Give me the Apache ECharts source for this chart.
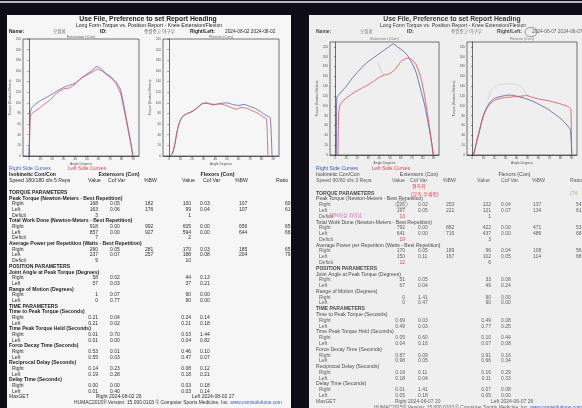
<!DOCTYPE html>
<html><head><meta charset="utf-8">
<script src="https://cdn.jsdelivr.net/npm/echarts@6/dist/echarts.min.js"></script>
<style>html,body{margin:0;padding:0;background:#0e0c16;overflow:hidden}#c{width:582px;height:408px}</style>
</head><body><div id="c"></div>
<script>
// ---------- curve data (angle in degrees, torque in N-m) ----------
// Page 1 (2024-08-02, 180 d/s)
const p1ExtRightAngle = [0, 0.5, 1, 1.5, 3, 6, 10, 15, 20, 25, 30, 35, 40, 45, 50, 55, 58, 62, 66, 70, 75, 79, 82, 85, 88, 90];
const p1ExtRightTorque = [0, 30, 75, 85, 92, 98, 104, 110, 116, 123, 129, 133, 137, 146, 154, 161, 168, 165, 156, 150, 140, 125, 95, 60, 25, 0];
const p1ExtLeftAngle = [0.3, 0.8, 1.2, 2, 4, 8, 12, 18, 24, 30, 35, 40, 45, 50, 55, 59, 63, 67, 71, 75, 79, 82, 85, 88, 89.5];
const p1ExtLeftTorque = [0, 40, 70, 78, 82, 88, 95, 105, 118, 126, 128, 135, 146, 152, 158, 163, 160, 153, 146, 136, 118, 88, 55, 22, 0];
const p1FlxRightAngle = [1, 3, 5, 7, 9, 12, 15, 20, 25, 28, 32, 36, 40, 45, 50, 55, 60, 65, 70, 75, 80, 84, 86, 87.5, 88.5, 89];
const p1FlxRightTorque = [0, 5, 20, 45, 62, 75, 79, 84, 92, 98, 100, 98, 97, 99, 100, 97, 95, 97, 93, 89, 82, 76, 74, 72, 30, 0];
const p1FlxLeftAngle = [1.5, 3.5, 5.5, 7.5, 10, 13, 16, 20, 25, 29, 33, 38, 43, 48, 53, 58, 62, 67, 72, 77, 81, 84, 85, 85.5];
const p1FlxLeftTorque = [0, 6, 25, 50, 68, 76, 80, 83, 91, 98, 99, 96, 98, 96, 92, 88, 91, 90, 85, 80, 74, 70, 35, 0];
// Page 2 (2024-06-07, 60 d/s)
const p2ExtRightAngle = [0.8, 1, 1.3, 3, 6, 10, 15, 20, 25, 30, 35, 40, 45, 50, 53, 57, 62, 66, 70, 74, 78, 82, 85, 88, 90];
const p2ExtRightTorque = [0, 60, 118, 122, 130, 140, 155, 168, 180, 190, 198, 206, 214, 222, 226, 220, 212, 203, 188, 168, 135, 100, 65, 30, 0];
const p2ExtLeftAngle = [2.3, 2.6, 3, 4, 6, 10, 15, 20, 25, 30, 35, 40, 45, 50, 55, 60, 64, 67, 70, 74, 78, 81, 84, 87, 89.5];
const p2ExtLeftTorque = [0, 50, 85, 100, 108, 116, 124, 131, 137, 143, 150, 158, 163, 166, 175, 190, 196, 197, 194, 184, 160, 130, 90, 45, 0];
const p2FlxRightAngle = [0.8, 2, 4, 6, 8, 10, 13, 16, 20, 25, 30, 33, 38, 43, 48, 53, 58, 63, 68, 73, 78, 83, 87, 89, 90, 90.3];
const p2FlxRightTorque = [0, 10, 28, 45, 65, 82, 97, 108, 115, 119, 121, 122, 121, 118, 115, 111, 106, 100, 94, 86, 78, 68, 58, 50, 20, 0];
const p2FlxLeftAngle = [1, 2.2, 4, 6, 8, 10, 13, 16, 20, 25, 30, 35, 40, 45, 49, 55, 60, 65, 70, 75, 80, 85, 88, 89.5, 90];
const p2FlxLeftTorque = [0, 12, 30, 48, 66, 80, 94, 104, 111, 115, 117, 118, 119, 120, 121, 117, 114, 112, 110, 107, 104, 100, 97, 93, 0];
// pencil marks on page 2 charts
const p2ExtMarkAngle = [39, 41.5, 44.5];
const p2ExtMarkTorque = [188, 174, 160];
const p2FlxMarkAngle = [14, 16, 20, 26, 34, 42, 47, 50];
const p2FlxMarkTorque = [112, 128, 138, 144, 145, 142, 132, 120];

// ---------- axis ticks ----------
const xTickValues = [0, 10, 20, 30, 40, 50, 60, 70, 80, 90];
const yTickValues = [0, 20, 40, 60, 80, 100, 120, 140, 160, 180, 200, 220];

// ---------- table data ----------
const rowLabels = ['TORQUE PARAMETERS','Peak Torque (Newton-Meters - Best Repetition)','Right','Left','Deficit',
 'Total Work Done (Newton-Meters - Best Repetition)','Right','Left','Deficit',
 'Average Power per Repetition (Watts - Best Repetition)','Right','Left','Deficit',
 'POSITION PARAMETERS','Joint Angle at Peak Torque (Degrees)','Right','Left',
 'Range of Motion (Degrees)','Right','Left',
 'TIME PARAMETERS','Time to Peak Torque (Seconds)','Right','Left',
 'Time Peak Torque Held (Seconds)','Right','Left',
 'Force Decay Time (Seconds)','Right','Left',
 'Reciprocal Delay (Seconds)','Right','Left',
 'Delay Time (Seconds)','Right','Left','MaxGET'];
const colHeaders = ['Value','Cof Var','%BW','Value','Cof Var','%BW','Ratio'];

const p1ExtVal = ['','','168','163','3','','918','857','7','','260','237','9','','','58','57','','1','0','','','0.21','0.21','','0.01','0.01','','0.53','0.55','','0.14','0.19','','0.00','0.01',''];
const p1ExtCof = ['','','0.05','0.06','','','0.00','0.00','','','0.05','0.07','','','','0.02','0.03','','0.07','0.77','','','0.04','0.02','','0.70','0.00','','0.01','0.03','','0.23','0.28','','0.00','0.40',''];
const p1ExtBW  = ['','','182','176','','','992','927','','','281','257','','','','','','','','','','','','','','','','','','','','','','','','',''];
const p1FlxVal = ['','','100','99','1','','605','594','2','','170','188','10','','','44','37','','90','90','','','0.24','0.21','','0.03','0.04','','0.46','0.47','','0.08','0.18','','0.03','0.03',''];
const p1FlxCof = ['','','0.03','0.04','','','0.00','0.00','','','0.03','0.08','','','','0.13','0.21','','0.00','0.00','','','0.14','0.18','','1.44','0.82','','0.10','0.07','','0.12','0.21','','0.18','0.14',''];
const p1FlxBW  = ['','','107','107','','','656','644','','','185','204','','','','','','','','','','','','','','','','','','','','','','','','',''];
const p1Ratio  = ['','','60','61','','','65','66','','','65','79','','','','','','','','','','','','','','','','','','','','','','','','',''];

const p2ExtVal = ['','','226','197','13','','792','641','19','','170','150','12','','','51','67','','0','0','','','0.69','0.49','','0.05','0.04','','0.87','0.98','','0.19','0.18','','0.01','0.05',''];
const p2ExtCof = ['','','0.02','0.05','','','0.00','0.00','','','0.05','0.11','','','','0.05','0.04','','1.41','0.47','','','0.03','0.03','','0.60','0.16','','0.09','0.05','','0.11','0.04','','1.41','0.18',''];
const p2ExtBW  = ['','','253','221','','','882','715','','','189','167','','','','','','','','','','','','','','','','','','','','','','','','',''];
const p2FlxVal = ['','','122','121','1','','422','437','3','','96','102','6','','','33','49','','90','90','','','0.49','0.77','','0.10','0.07','','0.91','0.66','','0.16','0.11','','0.07','0.05',''];
const p2FlxCof = ['','','0.04','0.07','','','0.00','0.00','','','0.04','0.05','','','','0.08','0.24','','0.00','0.00','','','0.08','0.25','','0.44','0.08','','0.16','0.34','','0.29','0.33','','0.08','0.00',''];
const p2FlxBW  = ['','','137','134','','','471','486','','','108','114','','','','','','','','','','','','','','','','','','','','','','','','',''];
const p2Ratio  = ['','','54','61','','','53','68','','','56','68','','','','','','','','','','','','','','','','','','','','','','','','',''];

const reportTitle = 'Use File, Preference to set Report Heading';
const reportSubtitle = 'Long Form Torque vs. Position Report - Knee Extension/Flexion';
const patientName = '오정환';
const patientId = '중원중고 야구부';
const p1Dates = '2024-08-02 2024-08-02';
const p2Dates = '2024-06-07 2024-06-07';
const p1Speed = 'Speed 180/180 d/s 5 Reps';
const p2Speed = 'Speed 60/60 d/s 3 Reps';
const p1MaxGet = ['Right 2024-08-02 26', 'Left 2024-08-02 27'];
const p2MaxGet = ['Right 2024-06-07 20', 'Left 2024-06-07 26'];
const footerText = 'HUMAC2015® Version: 15.000.0103 © Computer Sports Medicine, Inc. ';
const footerLink = 'www.csmisolutions.com';
const notes = ['편측차', '(우측 우세함)', '10%이상 차이남', '(74'];

// ---------- build ----------
const F = '"Liberation Sans","Noto Sans CJK KR",Arial,sans-serif';
const els = [];
function T(x, y, text, size, color, opt) {
  opt = opt || {};
  els.push({type:'text', x:x, y:y, z:5, silent:true, style:{
    text:text, font:(opt.bold?'bold ':'') + size + 'px ' + F, fill:color,
    textAlign:opt.align||'left', align:opt.align||'left',
    textVerticalAlign:'middle', verticalAlign:'middle'}});
}
// background strip & pages
els.push({type:'rect', z:-10, silent:true, shape:{x:0,y:1,width:582,height:2}, style:{fill:'#b9b9bd'}});
els.push({type:'rect', z:-10, silent:true, shape:{x:7,y:15,width:284,height:393}, style:{fill:'#f6f6f6'}});
els.push({type:'rect', z:-10, silent:true, shape:{x:309,y:15,width:273,height:393}, style:{fill:'#efefef'}});

function page(cfg) {
  const c = cfg.c;
  T(cfg.cx, 19.5, reportTitle, 6.8, c.title, {bold:true, align:'center'});
  T(cfg.cx+1, 25.3, reportSubtitle, 5.2, c.title, {align:'center'});
  T(cfg.x0, 32, 'Name:', 5, c.head, {bold:true});
  T(cfg.x0+44, 32, patientName, 4.6, c.light);
  T(cfg.x0+91, 32, 'ID:', 5, c.head, {bold:true});
  T(cfg.x0+135, 32, patientId, 4.6, c.light);
  T(cfg.x0+181, 32, 'Right/Left:', 5, c.head, {bold:true});
  T(cfg.x0+216, 32, cfg.dates, 4.8, c.text);
  T(cfg.g1c, cfg.ct, 'Extension (Con)', 4, c.light, {align:'center'});
  T(cfg.g2c, cfg.ct, 'Flexion (Con)', 4, c.light, {align:'center'});
  T(cfg.x0, 168.3, 'Right Side Curves', 5.2, c.blue);
  T(cfg.x0+cfg.legL, 168.3, 'Left Side Curves', 5.2, c.red);
  T(cfg.x0, 174.8, 'Isokinetic Con/Con', 5.2, c.head, {bold:cfg.bold});
  T(cfg.extHc, 174.8, 'Extensors (Con)', 5.3, c.head, {bold:cfg.bold, align:'center'});
  T(cfg.flxHc, 174.8, 'Flexors (Con)', 5.3, c.head, {bold:cfg.bold, align:'center'});
  T(cfg.x0, 180.4, cfg.speed, 5.2, c.text);
  const hx = cfg.hx;
  T(hx[0], 180.4, colHeaders[0], 5.2, c.text, {align:'right'});
  for (let i = 1; i < 7; i++) T(hx[i], 180.4, colHeaders[i], 5.2, c.text, i===3?{align:'right'}:{});
  const cols = cfg.cols, v = cfg.vals;
  rowLabels.forEach((lab, i) => {
    const y = cfg.y0 + i * cfg.step;
    const sub = (lab === 'Right' || lab === 'Left' || lab === 'Deficit');
    if (sub) T(cfg.x0+3, y, lab, 5, c.text);
    else if (lab === 'MaxGET') T(cfg.x0, y, lab, 5, c.text);
    else T(cfg.x0, y, lab, 5.1, c.head, {bold:cfg.bold || /PARAMETERS/.test(lab)});
    const redDef = cfg.redDeficit && lab === 'Deficit';
    if (v[0][i]) T(cols[0], y, v[0][i], 5, redDef ? '#e2404c' : c.text, {align:'right'});
    if (v[1][i]) T(cols[1], y, v[1][i], 5, c.text);
    if (v[2][i]) T(cols[2], y, v[2][i], 5, c.text);
    if (v[3][i]) T(cols[3], y, v[3][i], 5, c.text, {align:'right'});
    if (v[4][i]) T(cols[4], y, v[4][i], 5, c.text);
    if (v[5][i]) T(cols[5], y, v[5][i], 5, c.text);
    if (v[6][i]) T(cols[6], y, v[6][i], 5, c.text);
  });
  const ym = cfg.y0 + (rowLabels.length - 1) * cfg.step;
  T(cfg.mg[0], ym, cfg.maxget[0], 5, c.text);
  T(cfg.mg[1], ym, cfg.maxget[1], 5, c.text);
  const yf = cfg.y0 + rowLabels.length * cfg.step;
  els.push({type:'text', x:cfg.fx, y:yf, z:5, silent:true, style:{
    text:'{a|' + footerText + '}{b|' + footerLink + '}', font:'4.9px ' + F,
    textAlign:cfg.falign, align:cfg.falign, textVerticalAlign:'middle', verticalAlign:'middle',
    rich:{a:{fill:c.text, font:'4.9px ' + F}, b:{fill:'#3a58d0', font:'4.9px ' + F}}}});
}

page({x0:9, cx:148, g1c:81, g2c:221, ct:36.8, legL:59, bold:true, extHc:119, flxHc:217.5,
  speed:p1Speed, dates:p1Dates, hx:[101,108,144,195,203,235,276], cols:[98,110,145,191,200,239,285],
  vals:[p1ExtVal,p1ExtCof,p1ExtBW,p1FlxVal,p1FlxCof,p1FlxBW,p1Ratio], y0:192.6, step:5.68,
  mg:[96,192], maxget:p1MaxGet, fx:178, falign:'center', redDeficit:false,
  c:{title:'#1e1e1e', head:'#1e1e1e', text:'#2e2e2e', light:'#666', blue:'#4c62c6', red:'#e0424e'}});
page({x0:316, cx:452, g1c:384.5, g2c:522, ct:38.6, legL:56, bold:false, extHc:419, flxHc:514.5,
  speed:p2Speed, dates:p2Dates, hx:[405,410,443,490,501,532,570], cols:[405,418,446,491,501,533,576],
  vals:[p2ExtVal,p2ExtCof,p2ExtBW,p2FlxVal,p2FlxCof,p2FlxBW,p2Ratio], y0:193.3, step:5.78,
  mg:[395,491], maxget:p2MaxGet, fx:374, falign:'left', redDeficit:true,
  c:{title:'#3a3a3a', head:'#4a4a4a', text:'#5e5e5e', light:'#7a7a7a', blue:'#3e52b0', red:'#e0424e'}});

// handwritten notes on page 2
T(412, 187, notes[0], 5, '#e23a4a');
T(411, 195, notes[1], 5, '#e23a4a');
T(329, 215.7, notes[2], 4.8, '#c868a8');
T(570, 193.3, notes[3], 5, '#9aba5a');
els.push({type:'ellipse', z:6, silent:true, shape:{cx:401.5, cy:204.3, rx:6, ry:3.6}, style:{fill:'none', stroke:'#8a8a8a', lineWidth:0.6}});
els.push({type:'ellipse', z:6, silent:true, shape:{cx:531, cy:32, rx:6, ry:4.6}, style:{fill:'none', stroke:'#555', lineWidth:0.6}});

// ---------- charts ----------
function pairs(a, t) { return a.map((v, i) => [v, t[i]]); }
const gridPos = [
  {left:23, top:39, width:116, height:117},
  {left:163, top:39, width:116, height:117},
  {left:330, top:42, width:109, height:113},
  {left:467, top:42, width:110, height:113}];
const yMax = [220, 220, 230, 230];
const grid = gridPos.map(g => Object.assign({show:true, borderColor:'#3a3a3a', borderWidth:0.7, backgroundColor:'transparent', containLabel:false}, g));
const xAxis = gridPos.map((g, i) => ({
  type:'value', gridIndex:i, min:-5, max:95,
  name:'Angle Degrees', nameLocation:'middle', nameGap:6.5, nameTextStyle:{fontSize:3.3, color:'#555', fontFamily:F},
  axisLine:{show:true, onZero:false, lineStyle:{color:'#333', width:0.7}},
  axisTick:{show:true, length:1.5, customValues:xTickValues, lineStyle:{color:'#333', width:0.5}},
  axisLabel:{fontSize:3.2, color:'#555', margin:1.8, fontFamily:F, customValues:xTickValues},
  splitLine:{show:false}}));
const yAxis = gridPos.map((g, i) => ({
  type:'value', gridIndex:i, min:0, max:yMax[i],
  name:'Torque (Newton-Meters)', nameLocation:'middle', nameGap:8, nameRotate:90, nameTextStyle:{fontSize:3.3, color:'#555', fontFamily:F},
  axisLine:{show:true, lineStyle:{color:'#333', width:0.7}},
  axisTick:{show:true, length:1.5, customValues:yTickValues, lineStyle:{color:'#333', width:0.5}},
  axisLabel:{fontSize:3.2, color:'#555', margin:2, fontFamily:F, customValues:yTickValues},
  splitLine:{show:false}}));
function S(i, a, t, color, w) {
  return {type:'line', xAxisIndex:i, yAxisIndex:i, data:pairs(a, t), showSymbol:false, symbol:'none',
    smooth:0.2, lineStyle:{color:color, width:w||0.8}, itemStyle:{color:color}, silent:true, z:3};
}
const series = [
  S(0, p1ExtRightAngle, p1ExtRightTorque, '#5664b4'),
  S(0, p1ExtLeftAngle, p1ExtLeftTorque, '#d8505c'),
  S(1, p1FlxRightAngle, p1FlxRightTorque, '#5664b4'),
  S(1, p1FlxLeftAngle, p1FlxLeftTorque, '#d8505c'),
  S(2, p2ExtMarkAngle, p2ExtMarkTorque, '#b4b4b4', 0.6),
  S(3, p2FlxMarkAngle, p2FlxMarkTorque, '#c4c4c4', 0.6),
  S(2, p2ExtRightAngle, p2ExtRightTorque, '#4c5a9c'),
  S(2, p2ExtLeftAngle, p2ExtLeftTorque, '#d84a5a'),
  S(3, p2FlxRightAngle, p2FlxRightTorque, '#4c5a9c'),
  S(3, p2FlxLeftAngle, p2FlxLeftTorque, '#d84a5a')];

const chart = echarts.init(document.getElementById('c'), null, {renderer:'canvas'});
chart.setOption({animation:false, backgroundColor:'#0e0c16', grid:grid, xAxis:xAxis, yAxis:yAxis, series:series, graphic:{elements:els}});
</script></body></html>
